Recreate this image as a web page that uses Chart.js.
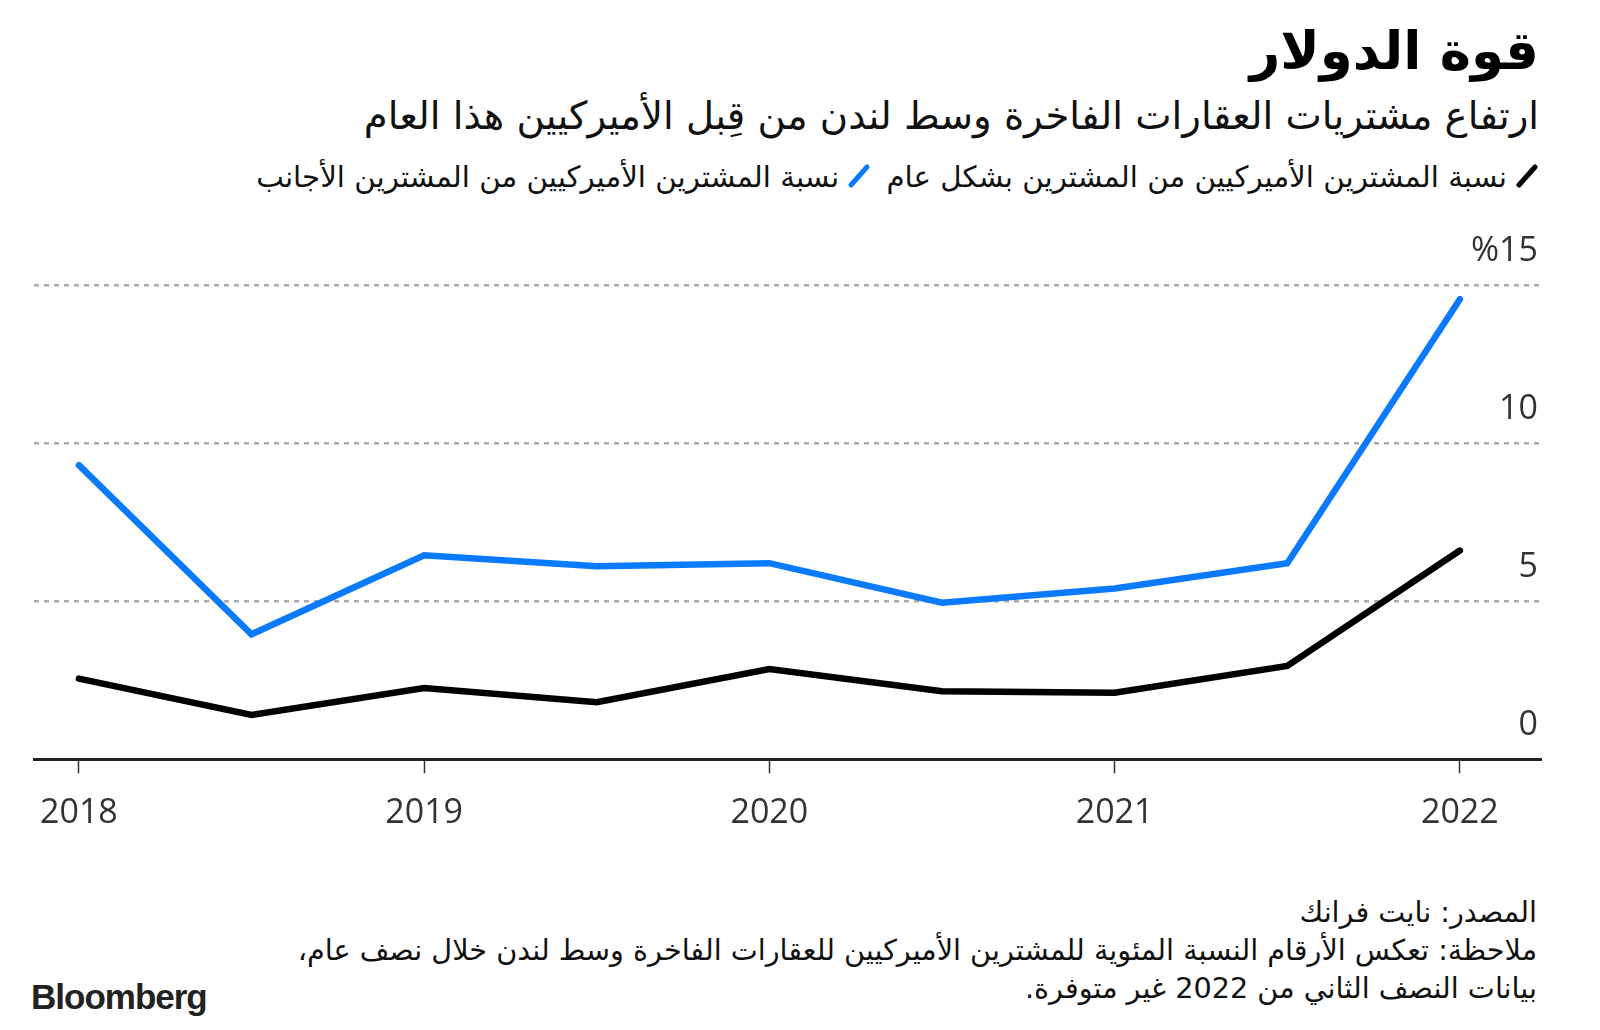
<!DOCTYPE html>
<html lang="ar">
<head>
<meta charset="utf-8">
<script src="https://cdn.jsdelivr.net/npm/chart.js@4"></script>
<style>
body{margin:0;background:#fff;width:1600px;height:1030px;position:relative;overflow:hidden;font-family:"DejaVu Sans",sans-serif;color:#111}
.ar{position:absolute;direction:rtl;text-align:right;white-space:nowrap}
#title{right:61px;top:20px;font-size:53px;font-weight:bold;color:#000}
#subtitle{right:61px;top:93px;font-size:38.6px;color:#111}
#legend{right:61px;top:160px;font-size:29.3px;color:#111}
#legend span.sw{display:inline-block;vertical-align:middle;margin-left:8px}
#legend span.item{margin-left:6px}
#notes{right:63px;top:893px;font-size:28.7px;line-height:38px;color:#111}
#brand{position:absolute;left:31px;top:977px;font-family:"Liberation Sans",Arial,sans-serif;font-weight:bold;font-size:35px;letter-spacing:-1px;color:#222}
#wrap{position:absolute;left:0;top:200px;width:1600px;height:664px}
</style>
</head>
<body>

<div id="title" class="ar">قوة الدولار</div>
<div id="subtitle" class="ar">ارتفاع مشتريات العقارات الفاخرة وسط لندن من قِبل الأميركيين هذا العام</div>
<div id="legend" class="ar">
<span class="item"><span class="sw"><svg width="24" height="26"><line x1="4" y1="22" x2="20" y2="4" stroke="#000" stroke-width="5" stroke-linecap="round"/></svg></span>نسبة المشترين الأميركيين من المشترين بشكل عام</span>
<span class="item"><span class="sw"><svg width="24" height="26"><line x1="4" y1="22" x2="20" y2="4" stroke="#0a7aff" stroke-width="5" stroke-linecap="round"/></svg></span>نسبة المشترين الأميركيين من المشترين الأجانب</span>
</div>

<div id="wrap"><canvas id="chart"></canvas></div>

<div id="notes" class="ar">المصدر: نايت فرانك<br>ملاحظة: تعكس الأرقام النسبة المئوية للمشترين الأميركيين للعقارات الفاخرة وسط لندن خلال نصف عام،<br>بيانات النصف الثاني من 2022 غير متوفرة.</div>
<div id="brand">Bloomberg</div>

<script>

// data

const periods = ['H1 2018','H2 2018','H1 2019','H2 2019','H1 2020','H2 2020','H1 2021','H2 2021','H1 2022']
const years = ['2018','2019','2020','2021','2022']
const shareOfForeign = [9.3,3.95,6.45,6.1,6.2,4.95,5.4,6.2,14.55]
const shareOfAll = [2.55,1.4,2.25,1.8,2.85,2.15,2.1,2.95,6.6]
const yTicks = [0,5,10,15]

const toPoints = arr => arr.map((v,i)=>({x:i,y:v}))


// CHART

const chart = new Chart(

document.getElementById('chart'),

{
type:'line',

data:{
datasets:[
{
label:'نسبة المشترين الأميركيين من المشترين الأجانب',
data:toPoints(shareOfForeign),
borderColor:'#0a7aff',
borderWidth:6.5,
borderCapStyle:'round',
pointRadius:0,
tension:0
},
{
label:'نسبة المشترين الأميركيين من المشترين بشكل عام',
data:toPoints(shareOfAll),
borderColor:'#000',
borderWidth:6.5,
borderCapStyle:'round',
pointRadius:0,
tension:0
}
]
},

options:{
responsive:true,
maintainAspectRatio:false,
animation:false,
layout:{padding:{left:34,right:59,top:85,bottom:10}},
plugins:{legend:{display:false},tooltip:{enabled:false}},
scales:{
x:{
type:'linear',
min:-0.26,
max:periods.length-1+0.47,
afterBuildTicks:axis=>{axis.ticks=years.map((y,i)=>({value:i*2}))},
grid:{drawOnChartArea:false,drawTicks:true,tickLength:14,tickColor:'#333',tickWidth:1.5},
border:{display:true,color:'#222',width:3},
ticks:{
padding:20,
color:'#333',
font:{family:'Open Sans',size:34},
maxRotation:0,
callback:v=>years[v/2]
}
},
y:{
position:'right',
min:0,
max:15,
afterBuildTicks:axis=>{axis.ticks=yTicks.map(v=>({value:v}))},
grid:{
drawTicks:false,
lineWidth:2.5,
color:ctx=>ctx.tick && ctx.tick.value===0 ? 'rgba(0,0,0,0)' : '#aaa'
},
border:{display:false,dash:[5,5]},
ticks:{
mirror:true,
padding:-3,
labelOffset:-34,
color:'#333',
font:{family:'Open Sans',size:34},
callback:v=>v===15 ? '%15' : String(v)
}
}
}
}

}
)

</script>
</body>
</html>
